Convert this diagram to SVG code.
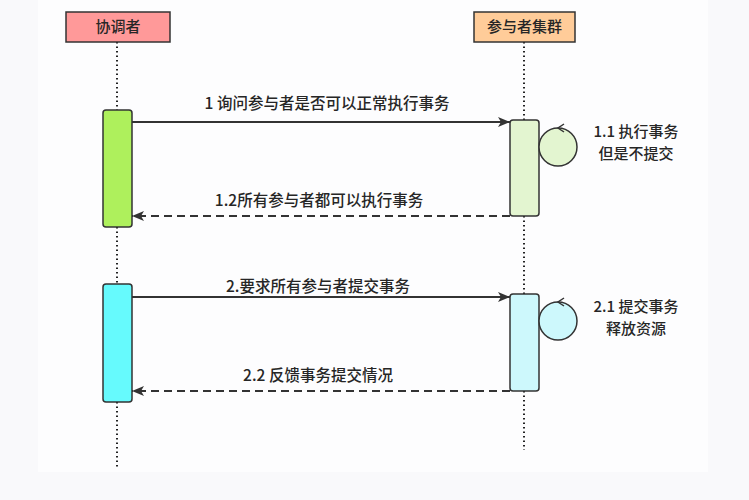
<svg xmlns="http://www.w3.org/2000/svg" width="749" height="500" viewBox="0 0 749 500">
<defs>
<style>
text{font-family:"Noto Sans CJK SC","Noto Sans",sans-serif;fill:#262626;font-size:15.5px;font-weight:500}
.hdr{font-size:15px;text-anchor:middle}
.lbl{text-anchor:middle}
.note{font-size:15px;text-anchor:middle}
.life{stroke:#222;stroke-width:2;stroke-dasharray:1.5 3;fill:none}
.box{stroke:#333;stroke-width:1.5}
.msg{stroke:#333;stroke-width:2;fill:none}
.ret{stroke:#333;stroke-width:2;fill:none;stroke-dasharray:8 5}
.loop{stroke:#333;stroke-width:1.5}
</style>
<marker id="ah" viewBox="0 0 12 10" refX="12" refY="5" markerWidth="12" markerHeight="10" markerUnits="userSpaceOnUse" orient="auto">
<path d="M0,0 L12,5 L0,10 L3,5 Z" fill="#333"/>
</marker>
</defs>
<rect x="0" y="0" width="749" height="500" fill="#f9f9fb"/>
<rect x="38" y="0" width="670" height="472" fill="#fdfdfe"/>
<g id="lifelines">
<line class="life" x1="117" y1="42" x2="117" y2="110"/>
<line class="life" x1="117" y1="227" x2="117" y2="284"/>
<line class="life" x1="117" y1="402" x2="117" y2="468"/>
<line class="life" x1="524" y1="42" x2="524" y2="120"/>
<line class="life" x1="524" y1="216" x2="524" y2="294"/>
<line class="life" x1="524" y1="391" x2="524" y2="450"/>
</g>
<g id="coordinator">
<rect x="66" y="12" width="104" height="30" fill="#f99" class="box"/>
<text class="hdr" x="118" y="32">协调者</text>
</g>
<g id="participants">
<rect x="474" y="12" width="101" height="30" fill="#ffcc99" class="box"/>
<text class="hdr" x="524.5" y="32">参与者集群</text>
</g>
<g id="coord-act1"><rect x="103" y="110" width="29" height="117" rx="3" fill="#aef05c" class="box"/></g>
<g id="coord-act2"><rect x="103" y="284" width="29" height="118" rx="3" fill="#66fafd" class="box"/></g>
<g id="part-act1"><rect x="510" y="120" width="29" height="96" rx="3" fill="#e3f5d0" class="box"/></g>
<g id="part-act2"><rect x="510" y="294" width="29" height="97" rx="3" fill="#cdf8fc" class="box"/></g>
<g id="loop1">
<circle cx="558" cy="147" r="19" fill="#e3f5d0" class="loop"/>
<path d="M564,124 L558,128 L564,132" fill="none" class="loop"/>
<text class="note" x="636" y="137">1.1 执行事务</text>
<text class="note" x="636" y="159">但是不提交</text>
</g>
<g id="loop2">
<circle cx="558" cy="321" r="19" fill="#cdf8fc" class="loop"/>
<path d="M564,298 L558,302 L564,306" fill="none" class="loop"/>
<text class="note" x="636" y="312">2.1 提交事务</text>
<text class="note" x="636" y="334">释放资源</text>
</g>
<g id="connectors">
<line class="msg" x1="132" y1="122" x2="510" y2="122" marker-end="url(#ah)"/>
<line class="ret" x1="510" y1="216" x2="132" y2="216" marker-end="url(#ah)"/>
<line class="msg" x1="132" y1="297" x2="510" y2="297" marker-end="url(#ah)"/>
<line class="ret" x1="510" y1="391" x2="132" y2="391" marker-end="url(#ah)"/>
<text class="lbl" x="327" y="109">1 询问参与者是否可以正常执行事务</text>
<text class="lbl" x="319" y="206">1.2所有参与者都可以执行事务</text>
<text class="lbl" x="318" y="292">2.要求所有参与者提交事务</text>
<text class="lbl" x="318" y="381">2.2 反馈事务提交情况</text>
</g>
</svg>
